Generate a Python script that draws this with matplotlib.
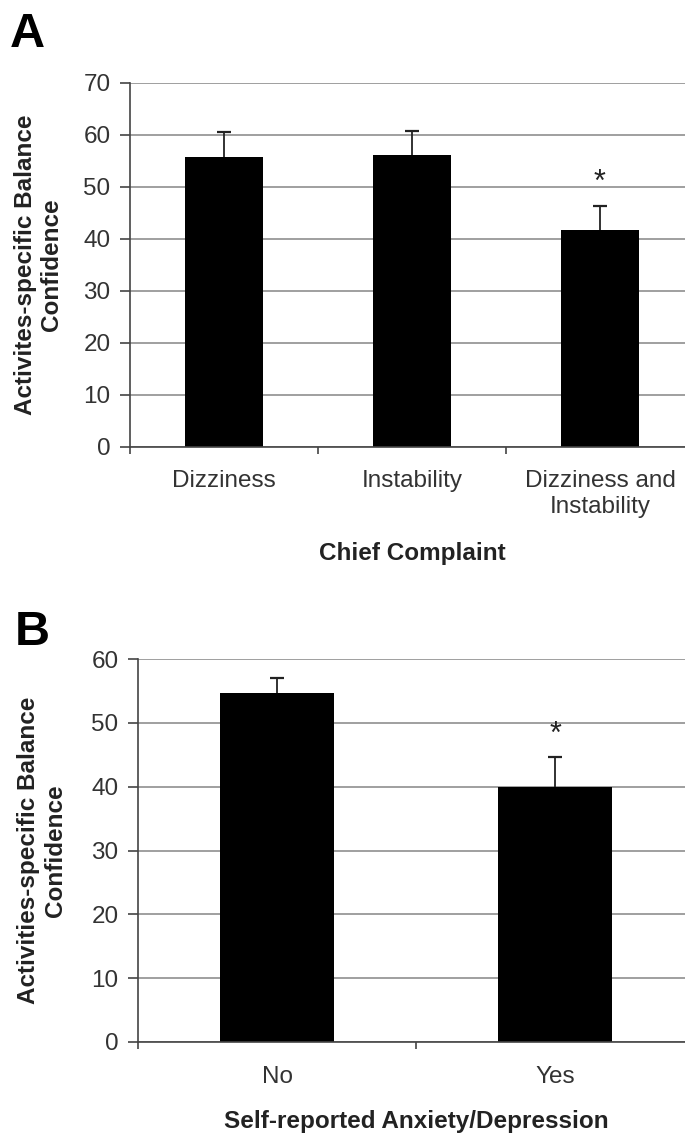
import numpy as np
import matplotlib.pyplot as plt

plt.rcParams['font.family'] = ['Liberation Sans', 'DejaVu Sans']

# Panel A - chief complaint
complaintLabels = ['Dizziness', 'Instability', 'Dizziness and\nInstability']
complaintMeans = [55.8, 56.0, 41.7]
complaintErr = [4.7, 4.7, 4.5]
complaintSig = [False, False, True]

# Panel B - self-reported anxiety/depression
anxietyLabels = ['No', 'Yes']
anxietyMeans = [54.7, 39.9]
anxietyErr = [2.3, 4.7]
anxietySig = [False, True]

W, H = 685, 1141
fig = plt.figure(figsize=(W / 100, H / 100), dpi=100)

textColor = '#333333'
gridColor = '#858585'


def panel(rect, labels, means, errs, sig, ymax, ylabel, xlabel, xlabY, ylabX, starOff):
    left, top, right, bottom = rect
    ax = fig.add_axes([left / W, 1 - bottom / H, (right - left) / W, (bottom - top) / H])
    x = np.arange(len(labels))
    ax.bar(x, means, width=0.41, color='black', zorder=2)
    _, caps, _ = ax.errorbar(x, means, yerr=[np.zeros(len(errs)), errs], fmt='none',
                             ecolor='#222222', elinewidth=1.3, capsize=5, capthick=1.6, zorder=3)
    # solo la barra de error superior
    caps[0].set_visible(False)
    for xi, m, e, s in zip(x, means, errs, sig):
        if s:
            ax.annotate('*', xy=(xi, m + e), xytext=(0, starOff), textcoords='offset points',
                        ha='center', va='bottom', fontsize=22, color='#222222')
    ax.set_xlim(-0.5, len(labels) - 0.5)
    ax.set_ylim(0, ymax)
    ax.set_yticks(np.arange(0, ymax + 1, 10))
    ax.set_axisbelow(True)
    ax.yaxis.grid(True, color=gridColor, linewidth=1.1)
    for s in ['top', 'right']:
        ax.spines[s].set_visible(False)
    for s in ['left', 'bottom']:
        ax.spines[s].set_color('#444444')
        ax.spines[s].set_linewidth(1.2)
    ax.set_xticks(x)
    ax.set_xticklabels(labels)
    ax.set_xticks(np.arange(len(labels)) - 0.5, minor=True)
    ax.tick_params(axis='x', which='major', length=0, pad=17, labelsize=17.5, labelcolor=textColor)
    ax.tick_params(axis='x', which='minor', length=5, width=1.2, color='#444444')
    ax.tick_params(axis='y', length=7, width=1.2, color='#444444', pad=7,
                   labelsize=17.5, labelcolor=textColor)
    ax.set_xlabel(xlabel, fontsize=17.5, fontweight='bold', color='#222222')
    ax.xaxis.set_label_coords(0.5, xlabY)
    ax.set_ylabel(ylabel, fontsize=17.5, fontweight='bold', color='#222222', linespacing=1.2)
    ax.yaxis.set_label_coords(ylabX, 0.5)
    return ax


axA = panel((130, 82.7, 694, 446.7), complaintLabels, complaintMeans, complaintErr, complaintSig,
            70, 'Activites-specific Balance\nConfidence', 'Chief Complaint', -0.262, -0.118, 6)
axB = panel((138, 659, 694, 1042), anxietyLabels, anxietyMeans, anxietyErr, anxietySig,
            60, 'Activities-specific Balance\nConfidence', 'Self-reported Anxiety/Depression',
            -0.178, -0.128, 5)

fig.text(10 / W, 1 - 47 / H, 'A', fontsize=35, fontweight='bold', va='baseline')
fig.text(15 / W, 1 - 645 / H, 'B', fontsize=35, fontweight='bold', va='baseline')

fig.savefig('out.png', dpi=100)
